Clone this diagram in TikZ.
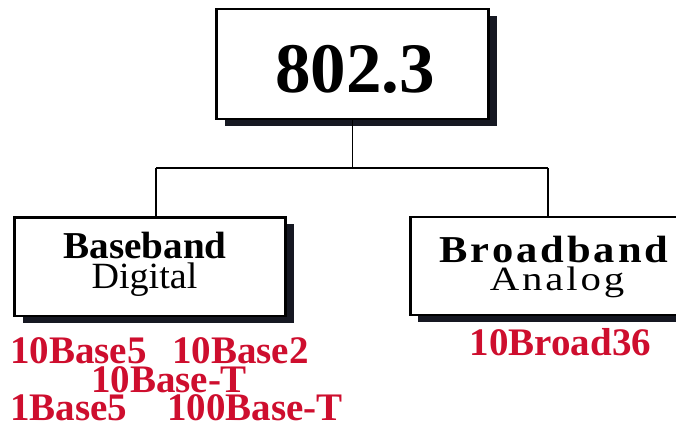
\documentclass[tikz,border=0pt]{standalone}
\usepackage{fontspec}
\setmainfont{Liberation Serif}
\usetikzlibrary{shadows}
\definecolor{redtxt}{RGB}{206,14,46}
\definecolor{shadowc}{RGB}{22,24,34}
\tikzset{
  box/.style={draw=black, line width=2.5pt, fill=white, inner sep=0pt,
    drop shadow={shadow xshift=8pt, shadow yshift=-7pt, fill=shadowc, opacity=1}},
  conn/.style={draw=black, line width=1.4pt},
  redlbl/.style={text=redtxt, font=\fontsize{39}{39}\selectfont\bfseries, inner sep=0pt,
    text height=26pt, text depth=0pt, anchor=base west},
  boldlbl/.style={font=\fontsize{38}{38}\selectfont\bfseries, inner sep=0pt,
    text height=26pt, text depth=0pt, anchor=base},
  reglbl/.style={font=\fontsize{37}{37}\selectfont, inner sep=0pt,
    text height=25pt, text depth=2pt, anchor=base}
}
\begin{document}
\begin{tikzpicture}[x=1pt,y=-1pt]
\clip (0,0) rectangle (676,429);
\fill[white] (0,0) rectangle (676,429);
% boxes
\node[box, minimum width=272pt, minimum height=110pt] (top) at (352.5,64) {};
\node[box, minimum width=271pt, minimum height=98.5pt] (left) at (150,266.5) {};
\node[box, minimum width=290pt, minimum height=98pt] (right) at (555.25,266) {};
% title
\node[font=\fontsize{71}{71}\selectfont\bfseries, inner sep=0pt, anchor=base] (title) at (355,92) {802.3};
% connectors
\coordinate (hl) at (156,168);
\coordinate (hr) at (548,168);
\coordinate (tj) at (top.south |- hl);
\draw[conn] (top.south) -- (tj);
\draw[conn] (hl) -- (hr);
\draw[conn] (hl) -- (hl |- left.north);
\draw[conn] (hr) -- (hr |- right.north);
% box texts
\node[boldlbl] (bb) at (145,258) {\scalebox{1.03}[1]{Baseband}};
\node[reglbl] (dg) at (144.5,288) {\scalebox{1.03}[1]{Digital}};
\node[boldlbl, font=\fontsize{38}{38}\selectfont\bfseries\addfontfeature{LetterSpace=7}] (br) at (554,262) {\scalebox{1.12}[1]{Broadband}};
\node[reglbl, font=\fontsize{34}{34}\selectfont\addfontfeature{LetterSpace=7}] (an) at (557,290) {\scalebox{1.2}[1]{Analog}};
% red labels
\node[redlbl] (a1) at (10,363) {10Base5};
\node[redlbl] (a2) at (172,363) {10Base2};
\node[redlbl, anchor=base] (a3) at (169,392) {10Base-T};
\node[redlbl] (a4) at (10,420) {1Base5};
\node[redlbl] (a5) at (167,420) {100Base-T};
\node[redlbl, anchor=base] (b1) at (560.5,355) {10Broad36};
\end{tikzpicture}
\end{document}
